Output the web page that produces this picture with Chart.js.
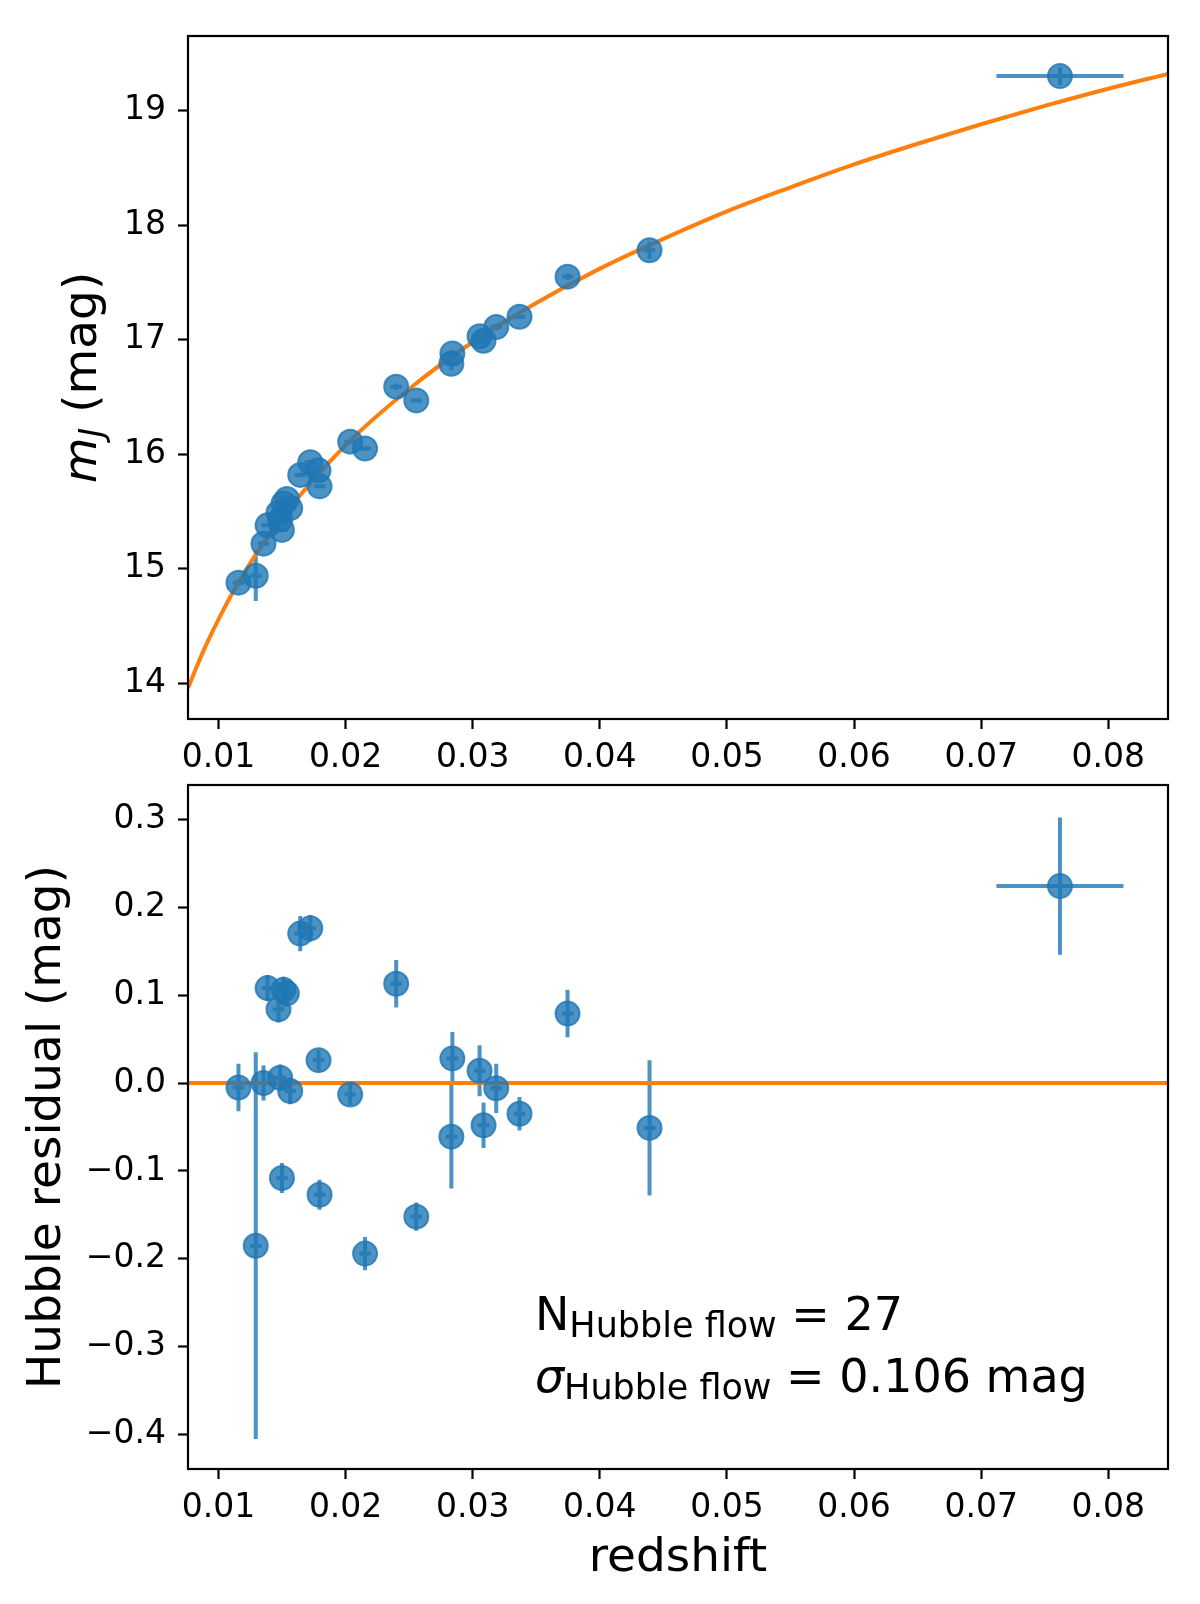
<!DOCTYPE html>
<html>
<head>
<meta charset="utf-8">
<script src="https://cdn.jsdelivr.net/npm/chart.js@4.4.1/dist/chart.umd.min.js"></script>
<style>
  html, body { margin: 0; padding: 0; background: #fff; }
  #wrap { position: relative; width: 1200px; height: 1604px; }
  canvas { position: absolute; left: 0; }
  #topChart { top: 0; }
  #bottomChart { top: 749px; }
</style>
</head>
<body>
<div id="wrap">
  <canvas id="topChart" width="1200" height="780"></canvas>
  <canvas id="bottomChart" width="1200" height="855"></canvas>
</div>
<script>
// supernovae in the Hubble flow
const redshift = [0.01157, 0.01293, 0.01354, 0.01386, 0.01472, 0.01485, 0.01511, 0.01538, 0.01499,
    0.01564, 0.01643, 0.01722, 0.01787, 0.01795, 0.02036, 0.02153, 0.02398, 0.02556, 0.02840,
    0.02832, 0.03054, 0.03085, 0.03185, 0.03368, 0.03746, 0.04391, 0.0762];
const redshiftErr = [0.00045, 0.00045, 0.00045, 0.00045, 0.00045, 0.00045, 0.00045, 0.00045, 0.00045,
    0.00045, 0.00045, 0.00045, 0.00045, 0.00045, 0.00045, 0.00045, 0.00045, 0.00045, 0.00045,
    0.00045, 0.00045, 0.00045, 0.00045, 0.00045, 0.00045, 0.00045, 0.005];
const magJ = [14.88, 14.94, 15.22, 15.38, 15.49, 15.43, 15.57, 15.61, 15.34,
    15.53, 15.82, 15.93, 15.86, 15.72, 16.11, 16.05, 16.59, 16.47, 16.88,
    16.79, 17.03, 16.99, 17.11, 17.20, 17.55, 17.78, 19.30];
const residual = [-0.005, -0.185, 0.000, 0.108, 0.084, 0.006, 0.106, 0.102, -0.108,
    -0.009, 0.170, 0.176, 0.026, -0.127, -0.013, -0.194, 0.113, -0.152, 0.028,
    -0.061, 0.014, -0.048, -0.006, -0.035, 0.079, -0.051, 0.224];
const magErr = [0.027, 0.22, 0.02, 0.015, 0.015, 0.015, 0.015, 0.015, 0.017,
    0.015, 0.02, 0.015, 0.012, 0.017, 0.012, 0.019, 0.027, 0.016, 0.03,
    0.059, 0.029, 0.026, 0.028, 0.019, 0.027, 0.077, 0.078];

// fitted Hubble-law curve, sampled off the orange line
const curveZ = [0.0076, 0.0083, 0.009, 0.01, 0.011, 0.012, 0.0135, 0.015, 0.02, 0.025, 0.03, 0.035,
    0.04, 0.045, 0.05, 0.055, 0.06, 0.065, 0.07, 0.075, 0.08, 0.0847];
const curveMag = [13.96, 14.15, 14.33, 14.56, 14.77, 14.96, 15.22, 15.45, 16.08, 16.57, 16.98, 17.32,
    17.62, 17.88, 18.12, 18.33, 18.53, 18.71, 18.88, 19.04, 19.19, 19.32];

const zTicks = [0.01, 0.02, 0.03, 0.04, 0.05, 0.06, 0.07, 0.08];
const magTicks = [14, 15, 16, 17, 18, 19];
const residTicks = [-0.4, -0.3, -0.2, -0.1, 0.0, 0.1, 0.2, 0.3];

const zRange = [0.0076, 0.0847];
const magRange = [13.69, 19.65];
const residRange = [-0.439, 0.339];

const BLUE = 'rgba(31, 119, 180, 0.8)';
const ORANGE = '#ff7f0e';
const FONT = "'DejaVu Sans', sans-serif";

Chart.defaults.font.family = FONT;
Chart.defaults.color = '#000';

function drawPieces(ctx, pieces, x, y, centered) {
    let total = 0;
    pieces.forEach(p => {
        ctx.font = p.font;
        p.w = ctx.measureText(p.text).width;
        total += p.w;
    });
    let cur = centered ? x - total / 2 : x;
    pieces.forEach(p => {
        ctx.font = p.font;
        ctx.fillText(p.text, cur, y + (p.dy || 0));
        cur += p.w;
    });
}

const extras = {
    id: 'hubbleExtras',
    beforeDatasetsDraw(chart, args, opts) {
        const ctx = chart.ctx;
        const area = chart.chartArea;
        const xs = chart.scales.x;
        const ys = chart.scales.y;
        ctx.save();
        ctx.beginPath();
        ctx.rect(area.left, area.top, area.right - area.left, area.bottom - area.top);
        ctx.clip();
        ctx.strokeStyle = BLUE;
        ctx.lineWidth = 4;
        opts.x.forEach((xv, i) => {
            const yv = opts.y[i];
            const px = xs.getPixelForValue(xv);
            const py = ys.getPixelForValue(yv);
            ctx.beginPath();
            ctx.moveTo(xs.getPixelForValue(xv - opts.xerr[i]), py);
            ctx.lineTo(xs.getPixelForValue(xv + opts.xerr[i]), py);
            ctx.moveTo(px, ys.getPixelForValue(yv - opts.yerr[i]));
            ctx.lineTo(px, ys.getPixelForValue(yv + opts.yerr[i]));
            ctx.stroke();
        });
        ctx.restore();
    },
    afterDraw(chart, args, opts) {
        const ctx = chart.ctx;
        const area = chart.chartArea;
        ctx.save();
        ctx.strokeStyle = '#000';
        ctx.lineWidth = 2.2;
        ctx.strokeRect(area.left, area.top, area.right - area.left, area.bottom - area.top);

        ctx.fillStyle = '#000';
        ctx.textBaseline = 'alphabetic';
        ctx.textAlign = 'left';

        // y axis label, rotated
        ctx.save();
        ctx.translate(opts.yLabelX, (area.top + area.bottom) / 2);
        ctx.rotate(-Math.PI / 2);
        drawPieces(ctx, opts.yLabel, 0, 0, true);
        ctx.restore();

        if (opts.xLabel) {
            drawPieces(ctx, [{ text: opts.xLabel, font: '47px ' + FONT }],
                (area.left + area.right) / 2, opts.xLabelY, true);
        }

        if (opts.note) {
            const w = area.right - area.left;
            const h = area.bottom - area.top;
            opts.note.forEach(line => {
                drawPieces(ctx, line.pieces, area.left + 0.354 * w, area.top + line.fy * h, false);
            });
        }
        ctx.restore();
    }
};

function xAxis(height) {
    return {
        type: 'linear',
        min: zRange[0],
        max: zRange[1],
        afterBuildTicks: s => { s.ticks = zTicks.map(v => ({ value: v })); },
        afterFit: s => { s.height = height; },
        ticks: { font: { size: 33 }, color: '#000', padding: 10, maxRotation: 0, autoSkip: false,
            callback: v => v.toFixed(2) },
        grid: { drawOnChartArea: false, tickLength: 10, tickWidth: 2.2, tickColor: '#000' },
        border: { display: false }
    };
}

function yAxis(range, tickValues, fmt) {
    return {
        type: 'linear',
        min: range[0],
        max: range[1],
        afterBuildTicks: s => { s.ticks = tickValues.map(v => ({ value: v })); },
        afterFit: s => { s.width = 188; },
        ticks: { font: { size: 33 }, color: '#000', padding: 12, autoSkip: false, callback: fmt },
        grid: { drawOnChartArea: false, tickLength: 10, tickWidth: 2.2, tickColor: '#000' },
        border: { display: false }
    };
}

const pointStyle = {
    pointRadius: 12,
    pointBorderWidth: 2,
    backgroundColor: BLUE,
    borderColor: BLUE,
    showLine: false,
    order: 0
};

new Chart(document.getElementById('topChart'), {
    type: 'scatter',
    data: {
        datasets: [
            Object.assign({ data: redshift.map((z, i) => ({ x: z, y: magJ[i] })) }, pointStyle),
            {
                data: curveZ.map((z, i) => ({ x: z, y: curveMag[i] })),
                showLine: true,
                borderColor: ORANGE,
                borderWidth: 4,
                pointRadius: 0,
                cubicInterpolationMode: 'monotone',
                order: 1
            }
        ]
    },
    options: {
        responsive: false,
        animation: false,
        events: [],
        layout: { autoPadding: false, padding: { top: 36, right: 32, left: 0, bottom: 0 } },
        scales: {
            x: xAxis(61),
            y: yAxis(magRange, magTicks, v => String(v))
        },
        plugins: {
            legend: { display: false },
            tooltip: { enabled: false },
            hubbleExtras: {
                x: redshift, y: magJ, xerr: redshiftErr, yerr: magErr,
                yLabelX: 96,
                yLabel: [
                    { text: 'm', font: 'italic 47px ' + FONT },
                    { text: 'J', font: 'italic 33px ' + FONT, dy: 7 },
                    { text: ' (mag)', font: '47px ' + FONT }
                ]
            }
        }
    },
    plugins: [extras]
});

new Chart(document.getElementById('bottomChart'), {
    type: 'scatter',
    data: {
        datasets: [
            Object.assign({ data: redshift.map((z, i) => ({ x: z, y: residual[i] })) }, pointStyle),
            {
                data: zRange.map(z => ({ x: z, y: 0 })),
                showLine: true,
                borderColor: ORANGE,
                borderWidth: 4,
                pointRadius: 0,
                order: 1
            }
        ]
    },
    options: {
        responsive: false,
        animation: false,
        events: [],
        layout: { autoPadding: false, padding: { top: 36, right: 32, left: 0, bottom: 0 } },
        scales: {
            x: xAxis(135),
            y: yAxis(residRange, residTicks,
                v => Math.abs(v) < 1e-9 ? '0.0' : (v < 0 ? '\u2212' : '') + Math.abs(v).toFixed(1))
        },
        plugins: {
            legend: { display: false },
            tooltip: { enabled: false },
            hubbleExtras: {
                x: redshift, y: residual, xerr: redshiftErr, yerr: magErr,
                yLabelX: 60,
                yLabel: [{ text: 'Hubble residual (mag)', font: '47px ' + FONT }],
                xLabel: 'redshift',
                xLabelY: 822,
                note: [
                    { fy: 0.797, pieces: [
                        { text: 'N', font: '46px ' + FONT },
                        { text: 'Hubble flow', font: '35px ' + FONT, dy: 7 },
                        { text: ' = 27', font: '46px ' + FONT }
                    ] },
                    { fy: 0.887, pieces: [
                        { text: '\u03c3', font: 'italic 46px ' + FONT },
                        { text: 'Hubble flow', font: '35px ' + FONT, dy: 7 },
                        { text: ' = 0.106 mag', font: '46px ' + FONT }
                    ] }
                ]
            }
        }
    },
    plugins: [extras]
});
</script>
</body>
</html>
